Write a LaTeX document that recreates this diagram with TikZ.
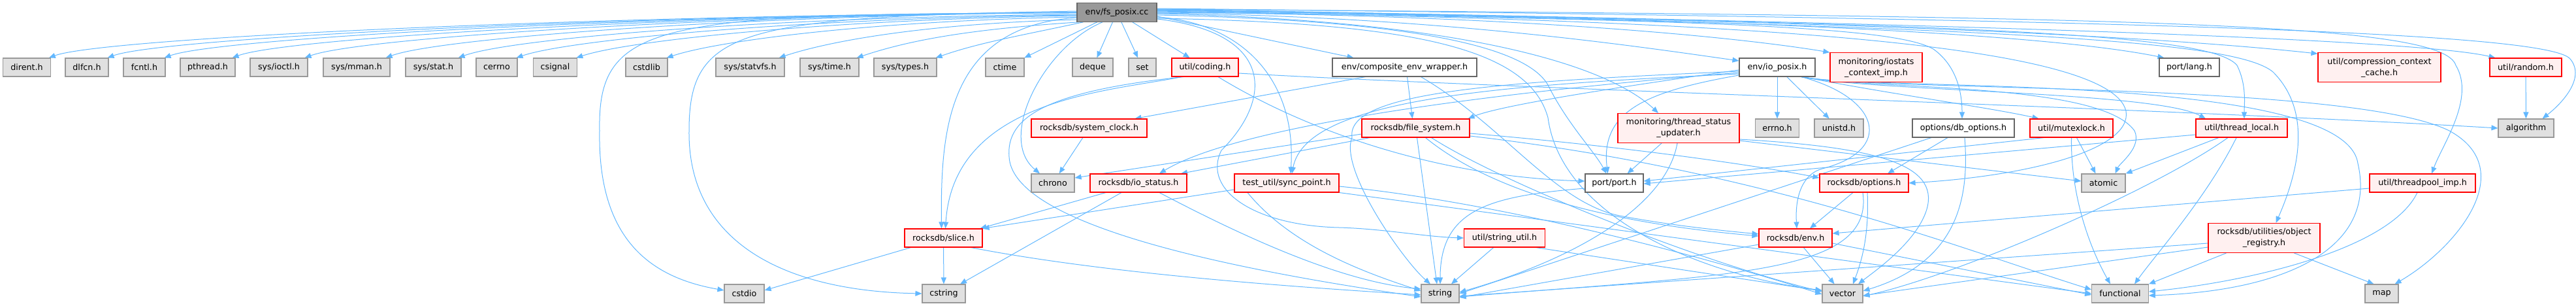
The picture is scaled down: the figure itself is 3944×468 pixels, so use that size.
\documentclass[tikz,border=0pt]{standalone}
\usepackage{fontspec}
\setmainfont{DejaVu Sans}
\usetikzlibrary{arrows.meta,backgrounds}
\definecolor{eblue}{HTML}{63B8FF}
\definecolor{gfill}{HTML}{E0E0E0}
\definecolor{gdraw}{HTML}{999999}
\definecolor{rfill}{HTML}{FFF0F0}
\definecolor{rdraw}{HTML}{FF0000}
\definecolor{wdraw}{HTML}{666666}
\definecolor{rootfill}{HTML}{999999}
\newcommand{\nodefont}{\fontsize{12.7}{17}\selectfont}
\tikzset{
  basen/.style={line width=1.1pt, font=\nodefont, inner sep=0pt, minimum height=28pt, align=center, text=black},
  gn/.style={basen, fill=gfill, draw=gdraw},
  rn/.style={basen, fill=rfill, draw=rdraw},
  wn/.style={basen, fill=white, draw=wdraw},
  rootn/.style={basen, fill=rootfill, draw=wdraw},
  twol/.style={minimum height=45pt},
  edg/.style={draw=eblue, line width=1pt, -{Triangle[length=10pt,width=8pt]}},
}
\begin{document}
\begin{tikzpicture}[x=1pt,y=-1pt]
\useasboundingbox (0,0) rectangle (3944,468);
% root
\node[rootn, minimum width=122pt, minimum height=28.6pt] (fs) at (1710,19) {env/fs\_posix.cc};
% row 1
\node[gn, minimum width=72.5pt] (dirent) at (41,103) {dirent.h};
\node[gn, minimum width=66pt] (dlfcn) at (133,103) {dlfcn.h};
\node[gn, minimum width=64pt] (fcntl) at (221,103) {fcntl.h};
\node[gn, minimum width=84pt] (pthread) at (318,103) {pthread.h};
\node[gn, minimum width=88pt] (sysioctl) at (427,103) {sys/ioctl.h};
\node[gn, minimum width=102pt] (sysmman) at (546,103) {sys/mman.h};
\node[gn, minimum width=85pt] (sysstat) at (663.5,103) {sys/stat.h};
\node[gn, minimum width=63pt] (cerrno) at (760.5,103) {cerrno};
\node[gn, minimum width=67.5pt] (csignal) at (850,103) {csignal};
\node[gn, minimum width=64pt] (cstdlib) at (990,103) {cstdlib};
\node[gn, minimum width=105pt] (sysstatvfs) at (1148.5,103) {sys/statvfs.h};
\node[gn, minimum width=90pt] (systime) at (1270,103) {sys/time.h};
\node[gn, minimum width=96pt] (systypes) at (1386,103) {sys/types.h};
\node[gn, minimum width=59pt] (ctime) at (1538.5,103) {ctime};
\node[gn, minimum width=62pt] (deque) at (1673,103) {deque};
\node[gn, minimum width=42pt] (set) at (1749,103) {set};
\node[rn, minimum width=102pt] (coding) at (1845,103) {util/coding.h};
\node[wn, minimum width=221pt] (composite) at (2150.5,103) {env/composite\_env\_wrapper.h};
\node[wn, minimum width=116pt] (iopx) at (2721,103) {env/io\_posix.h};
\node[rn, twol, minimum width=141pt] (iostats) at (2872.5,103.2) {monitoring/iostats\\\_context\_imp.h};
\node[wn, minimum width=92pt] (portlang) at (3352,103) {port/lang.h};
\node[rn, twol, minimum width=188pt] (compcache) at (3643,103.2) {util/compression\_context\\\_cache.h};
\node[rn, minimum width=110pt] (random) at (3867,103) {util/random.h};
% row 2
\node[rn, minimum width=177pt] (sysclock) at (1667.5,196) {rocksdb/system\_clock.h};
\node[rn, minimum width=165pt] (filesys) at (2167.5,196) {rocksdb/file\_system.h};
\node[rn, twol, minimum width=186pt] (tsu) at (2570,196) {monitoring/thread\_status\\\_updater.h};
\node[gn, minimum width=67.5pt] (errno) at (2721,196) {errno.h};
\node[gn, minimum width=75pt] (unistd) at (2815.5,196) {unistd.h};
\node[wn, minimum width=156pt] (dbopt) at (3006,196) {options/db\_options.h};
\node[rn, minimum width=127pt] (mutex) at (3171.5,196) {util/mutexlock.h};
\node[rn, minimum width=140pt] (threadlocal) at (3432,196) {util/thread\_local.h};
\node[gn, minimum width=85pt] (algorithm) at (3867.5,196) {algorithm};
% row 3
\node[gn, minimum width=66pt] (chrono) at (1612,280) {chrono};
\node[rn, minimum width=148pt] (iostatus) at (1743,280) {rocksdb/io\_status.h};
\node[rn, minimum width=160pt] (syncpoint) at (1970,280) {test\_util/sync\_point.h};
\node[wn, minimum width=89pt] (port) at (2471.5,280) {port/port.h};
\node[rn, minimum width=136pt] (options) at (2854,280) {rocksdb/options.h};
\node[gn, minimum width=67pt] (atomic) at (3220.5,280) {atomic};
\node[rn, minimum width=162pt] (threadpool) at (3709,280) {util/threadpool\_imp.h};
% row 4
\node[rn, minimum width=119pt] (slice) at (1444.5,364) {rocksdb/slice.h};
\node[rn, minimum width=124pt] (stringutil) at (2303.5,364) {util/string\_util.h};
\node[rn, minimum width=112pt] (env) at (2749,364) {rocksdb/env.h};
\node[rn, twol, minimum width=171pt] (objreg) at (3466.5,364) {rocksdb/utilities/object\\\_registry.h};
% row 5
\node[gn, minimum width=61pt] (cstdio) at (1139.5,449) {cstdio};
\node[gn, minimum width=66pt] (cstring) at (1445,449) {cstring};
\node[gn, minimum width=58pt] (string) at (2205,449) {string};
\node[gn, minimum width=62pt] (vector) at (2821,449) {vector};
\node[gn, minimum width=86.6pt] (functional) at (3246,449) {functional};
\node[gn, minimum width=51pt] (map) at (3646.5,449) {map};

\begin{scope}[on background layer]
% fs -> row 1 left fan
\draw[edg] (fs.west) .. controls (862,24) and (154,59) .. ([xshift=-3pt]dirent.north east);
\draw[edg] (fs.west) .. controls (907,24) and (244,59) .. ([xshift=-2pt]dlfcn.north east);
\draw[edg] (fs.west) .. controls (950,24) and (331,59) .. ([xshift=-2pt]fcntl.north east);
\draw[edg] (fs.west) .. controls (1002,24) and (435,59) .. ([xshift=-5pt]pthread.north east);
\draw[edg] (fs.west) .. controls (1057,24) and (546,59) .. ([xshift=-5pt]sysioctl.north east);
\draw[edg] (fs.west) .. controls (1120,24) and (670,59) .. ([xshift=-7pt]sysmman.north east);
\draw[edg] ([yshift=-3pt]fs.west) .. controls (1175,26) and (781,59) .. ([xshift=-5pt]sysstat.north east);
\draw[edg] ([yshift=-4pt]fs.west) .. controls (1220,28) and (870,61) .. ([xshift=-2pt]cerrno.north east);
\draw[edg] ([yshift=-5pt]fs.west) .. controls (1265,30) and (962,62) .. ([xshift=-2pt]csignal.north east);
\draw[edg] ([yshift=-7pt]fs.west) .. controls (1335,32) and (1100,62) .. ([xshift=-2pt]cstdlib.north east);
\draw[edg] ([yshift=-11pt]fs.west) .. controls (1420,36) and (1272,62) .. ([xshift=-9pt]sysstatvfs.north east);
\draw[edg] ([xshift=3pt]fs.south west) .. controls (1480,45) and (1391,62) .. ([xshift=-4pt]systime.north east);
\draw[edg] ([xshift=10pt]fs.south west) .. controls (1560,55) and (1500,65) .. ([xshift=-2pt]systypes.north east);
\draw[edg] (fs) -- (ctime);
\draw[edg] (fs) -- (deque);
\draw[edg] (fs) -- (set);
\draw[edg] (fs) -- (coding);
% fs -> long curves left / down
\draw[edg] ([yshift=-1pt]fs.west) .. controls (1000,20) and (915,35) .. (918,200) .. controls (915,370) and (1000,425) .. ([yshift=5pt]cstdio.west);
\draw[edg] ([yshift=2pt]fs.west) .. controls (1130,26) and (1055,45) .. (1055,200) .. controls (1053,370) and (1200,445) .. (cstring.west);
\draw[edg] ([xshift=-22pt]fs.south) .. controls (1600,70) and (1525,210) .. ([xshift=-20pt]chrono.north);
\draw[edg] ([yshift=-8pt]fs.west) .. controls (1450,40) and (1440,200) .. ([xshift=-3pt]slice.north);
% fs -> right
\draw[edg] ([yshift=-6pt]fs.east) -- ([xshift=-78pt]composite.north);
\draw[edg] ([yshift=-7pt]fs.east) .. controls (1900,35) and (1985,120) .. ([xshift=6pt]syncpoint.north);
\draw[edg] ([yshift=-10pt]fs.east) .. controls (1950,50) and (1950,150) .. (1870,230) .. controls (1840,290) and (1920,345) .. (2050,348) .. controls (2120,350) and (2180,362) .. (stringutil.west);
\draw[edg] ([yshift=-4pt]fs.east) .. controls (2100,30) and (2330,60) .. (2370,130) .. controls (2400,190) and (2440,230) .. ([xshift=-12pt]port.north);
\draw[edg] ([yshift=-9pt]fs.east) .. controls (2150,35) and (2340,70) .. (2370,180) .. controls (2390,330) and (2600,420) .. ([yshift=5pt]vector.west);
\draw[edg] ([yshift=-2pt]fs.east) .. controls (2200,30) and (2450,90) .. ([xshift=-31pt]tsu.north);
\draw[edg] ([yshift=-1pt]fs.east) .. controls (2200,25) and (2500,70) .. ([yshift=10pt]iopx.west);
\draw[edg] (fs.east) .. controls (2300,22) and (2650,55) .. (iostats.north west);
\draw[edg] ([yshift=1pt]fs.east) .. controls (2600,30) and (2900,40) .. (2960,75) .. controls (2995,100) and (3004,140) .. ([xshift=-2pt]dbopt.north);
\draw[edg] ([yshift=2pt]fs.east) .. controls (2600,30) and (3230,60) .. (3255,170) .. controls (3265,230) and (3100,270) .. (options.east);
\draw[edg] ([yshift=3pt]fs.east) .. controls (2500,25) and (3100,45) .. ([xshift=8pt]portlang.north west);
\draw[edg] ([yshift=3pt]fs.east) .. controls (3000,35) and (3385,50) .. (3425,100) .. controls (3440,130) and (3436,160) .. ([xshift=4pt]threadlocal.north);
\draw[edg] ([yshift=4pt]fs.east) .. controls (3050,40) and (3420,60) .. (3480,110) .. controls (3540,170) and (3520,260) .. ([xshift=18pt]objreg.north);
\draw[edg] ([yshift=4pt]fs.east) .. controls (2800,30) and (3300,55) .. ([yshift=-2pt]compcache.north west);
\draw[edg] ([yshift=5pt]fs.east) .. controls (3300,25) and (3740,35) .. (3760,100) .. controls (3790,150) and (3740,220) .. ([xshift=14pt]threadpool.north);
\draw[edg] ([yshift=5pt]fs.east) .. controls (3000,35) and (3700,60) .. ([xshift=9pt]random.north west);
\draw[edg] ([yshift=6pt]fs.east) .. controls (3300,30) and (3900,50) .. (3935,90) .. controls (3960,120) and (3920,160) .. ([xshift=25pt]algorithm.north);
% composite
\draw[edg] ([xshift=-60pt]composite.south) -- ([xshift=70pt]sysclock.north);
\draw[edg] ([xshift=4pt]composite.south) -- ([xshift=-5pt]filesys.north);
\draw[edg] ([xshift=25pt]composite.south) .. controls (2300,190) and (2380,310) .. (2480,330) .. controls (2560,345) and (2630,352) .. ([yshift=6pt]env.west);
% sysclock
\draw[edg] (sysclock) -- (chrono);
% filesys
\draw[edg] ([yshift=-9pt]filesys.west) -- ([yshift=8pt]chrono.east);
\draw[edg] ([xshift=-70pt]filesys.south) -- ([xshift=65pt]iostatus.north);
\draw[edg] ([xshift=2pt]filesys.south) -- ([xshift=-5pt]string.north);
\draw[edg] ([yshift=-8pt]filesys.east) .. controls (2500,225) and (2700,255) .. ([yshift=8pt]options.west);
\draw[edg] ([xshift=15pt]filesys.south) .. controls (2280,290) and (2450,340) .. ([yshift=3pt]env.west);
\draw[edg] ([xshift=24pt]filesys.south) .. controls (2300,280) and (2600,400) .. ([yshift=3pt]vector.west);
\draw[edg] ([yshift=-12pt]filesys.east) .. controls (2700,260) and (3000,380) .. ([yshift=6pt]functional.west);
% io_posix
\draw[edg] (iopx) -- (errno);
\draw[edg] (iopx) -- (unistd);
\draw[edg] ([yshift=-4pt]iopx.west) .. controls (2500,130) and (2300,160) .. ([xshift=-3pt]filesys.north east);
\draw[edg] ([yshift=-8pt]iopx.west) .. controls (2300,140) and (1900,190) .. ([xshift=32pt]iostatus.north);
\draw[edg] ([yshift=-10pt]iopx.west) .. controls (2300,130) and (2000,150) .. ([xshift=8pt]syncpoint.north);
\draw[edg] ([yshift=-6pt]iopx.west) .. controls (2300,125) and (2060,140) .. (2070,210) .. controls (2050,260) and (2150,400) .. ([xshift=-15pt]string.north);
\draw[edg] ([yshift=-12pt]iopx.west) .. controls (2520,140) and (2450,170) .. ([xshift=-10pt]port.north);
\draw[edg] ([xshift=37pt]iopx.south) .. controls (2880,150) and (2900,230) .. (2790,258) .. controls (2760,266) and (2748,300) .. ([xshift=2pt]env.north);
\draw[edg] ([xshift=40pt]iopx.south) .. controls (2870,140) and (3050,165) .. ([xshift=-50pt]mutex.north);
\draw[edg] ([xshift=37pt]iopx.south) .. controls (2870,138) and (3215,125) .. (3268,200) .. controls (3280,225) and (3245,250) .. ([xshift=18pt]atomic.north);
\draw[edg] ([xshift=37pt]iopx.south) .. controls (2870,140) and (3300,140) .. ([xshift=-55pt]threadlocal.north);
\draw[edg] ([xshift=37pt]iopx.south) .. controls (2870,140) and (3600,125) .. (3750,200) .. controls (3860,260) and (3760,380) .. ([xshift=20pt]map.north);
\draw[edg] ([xshift=37pt]iopx.south) .. controls (2870,140) and (3590,110) .. (3610,250) .. controls (3640,380) and (3500,445) .. ([yshift=-3pt]functional.east);
% thread_status_updater
\draw[edg] ([xshift=-26pt]tsu.south) -- ([xshift=20pt]port.north);
\draw[edg] ([xshift=-2pt]tsu.south) .. controls (2550,320) and (2400,400) .. ([yshift=2pt]string.east);
\draw[edg] ([yshift=4pt]tsu.south east) -- ([yshift=3pt]atomic.west);
\draw[edg] ([yshift=6pt]tsu.south east) .. controls (2870,225) and (2970,250) .. (2950,320) .. controls (2935,370) and (2870,415) .. ([xshift=24pt]vector.north);
% string_util
\draw[edg] (stringutil) -- (string);
\draw[edg] ([xshift=48pt]stringutil.south) -- ([yshift=4pt]vector.west);
% port
\draw[edg] ([yshift=-8pt]port.west) .. controls (2280,300) and (2205,320) .. (string.north);
% sync_point
\draw[edg] ([yshift=-10pt]syncpoint.west) -- (slice.north east);
\draw[edg] ([xshift=-60pt]syncpoint.south) .. controls (1980,380) and (2100,420) .. ([yshift=4pt]string.west);
\draw[edg] ([yshift=-5pt]syncpoint.east) .. controls (2300,310) and (2600,390) .. ([yshift=-1pt]vector.west);
\draw[edg] (syncpoint.south east) -- (functional.west);
% io_status
\draw[edg] ([xshift=-50pt]iostatus.south) -- ([xshift=-4pt]slice.north east);
\draw[edg] ([xshift=-26pt]iostatus.south) -- ([xshift=25pt]cstring.north);
\draw[edg] ([xshift=32pt]iostatus.south) .. controls (1900,360) and (2050,430) .. ([yshift=7pt]string.west);
% slice
\draw[edg] ([xshift=-50pt]slice.south) -- ([yshift=5pt]cstdio.east);
\draw[edg] (slice) -- (cstring);
\draw[edg] ([xshift=42pt]slice.south) .. controls (1700,420) and (2000,440) .. ([yshift=-2pt]string.west);
% coding
\draw[edg] ([xshift=-36pt]coding.south) .. controls (1700,140) and (1460,150) .. ([xshift=3pt]slice.north);
\draw[edg] ([xshift=-33pt]coding.south) .. controls (1600,140) and (1540,180) .. (1545,240) .. controls (1550,330) and (1800,400) .. ([yshift=-5pt]string.west);
\draw[edg] ([xshift=20pt]coding.south) .. controls (2000,200) and (2200,270) .. ([yshift=3pt]port.west);
\draw[edg] ([yshift=-9pt]coding.east) .. controls (2300,135) and (3300,165) .. (algorithm.west);
% random
\draw[edg] (random) -- (algorithm);
% options
\draw[edg] ([xshift=-17pt]options.south) -- ([xshift=22pt]env.north);
\draw[edg] ([xshift=5pt]options.south) .. controls (2862,360) and (2850,400) .. ([xshift=16pt]vector.north);
\draw[edg] ([xshift=-2pt]options.south) .. controls (2870,420) and (2650,420) .. ([yshift=-5pt]string.east);
% db_options
\draw[edg] ([xshift=-24pt]dbopt.south) -- ([xshift=36pt]options.north);
\draw[edg] ([xshift=2pt]dbopt.south) .. controls (3015,300) and (3000,400) .. ([yshift=4pt]vector.east);
\draw[edg] ([xshift=-49pt]dbopt.south) -- (string.east);
% env
\draw[edg] (env) -- (vector);
\draw[edg] ([yshift=-8pt]env.east) -- ([yshift=-2pt]functional.west);
\draw[edg] ([yshift=-10pt]env.west) -- ([yshift=-6pt]string.east);
% mutexlock
\draw[edg] ([xshift=8pt]mutex.south) -- ([xshift=-12pt]atomic.north);
\draw[edg] (mutex.south) .. controls (3170,300) and (3200,380) .. ([xshift=-15pt]functional.north);
\draw[edg] ([xshift=-42pt]mutex.south) -- ([yshift=3pt]port.east);
% thread_local
\draw[edg] ([yshift=-10pt]threadlocal.west) -- ([yshift=-1pt]port.east);
\draw[edg] ([xshift=-35pt]threadlocal.south) -- (atomic.north east);
\draw[edg] ([xshift=-21pt]threadlocal.south) .. controls (3300,290) and (3000,420) .. ([yshift=-4pt]vector.east);
\draw[edg] ([xshift=-8pt]threadlocal.south) .. controls (3380,300) and (3300,390) .. ([xshift=22pt]functional.north);
% threadpool
\draw[edg] ([yshift=-8pt]threadpool.west) -- ([yshift=7pt]env.east);
\draw[edg] ([xshift=-8pt]threadpool.south) .. controls (3660,380) and (3450,430) .. ([yshift=3pt]functional.east);
% object_registry
\draw[edg] ([xshift=-58pt]objreg.south) -- (functional.north east);
\draw[edg] ([xshift=46pt]objreg.south) -- ([xshift=-12pt]map.north);
\draw[edg] ([yshift=-8pt]objreg.west) -- ([yshift=-4pt]string.east);
\draw[edg] ([yshift=-14pt]objreg.west) -- ([yshift=-3pt]vector.east);
\end{scope}
\end{tikzpicture}
\end{document}
